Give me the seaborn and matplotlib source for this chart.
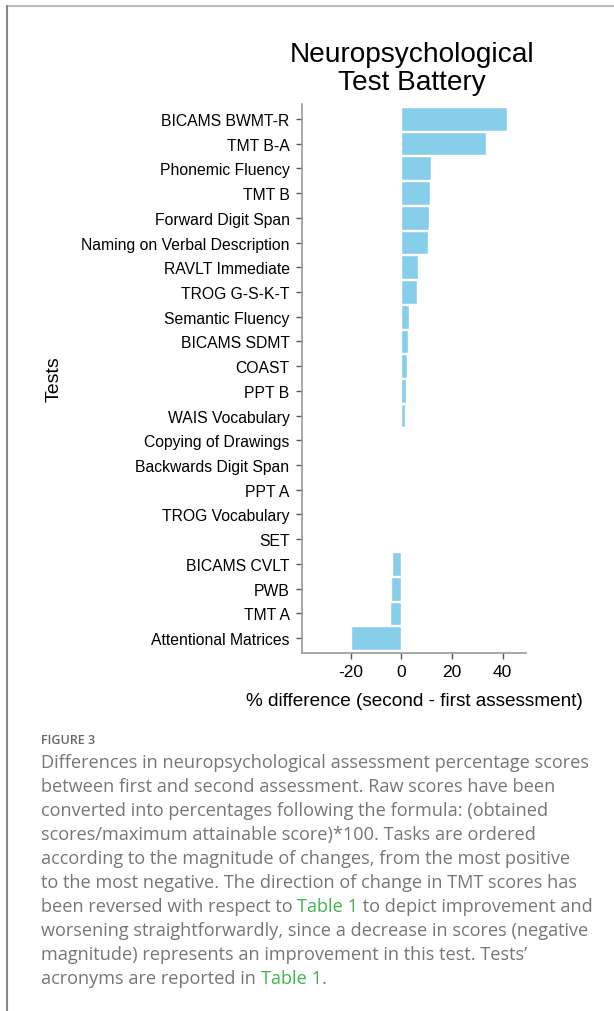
import matplotlib
matplotlib.use("Agg")
import matplotlib.pyplot as plt
import pandas as pd
import seaborn as sns
from matplotlib.lines import Line2D

tests = ["BICAMS BWMT-R", "TMT B-A", "Phonemic Fluency", "TMT B", "Forward Digit Span",
         "Naming on Verbal Description", "RAVLT Immediate", "TROG G-S-K-T", "Semantic Fluency",
         "BICAMS SDMT", "COAST", "PPT B", "WAIS Vocabulary", "Copying of Drawings",
         "Backwards Digit Span", "PPT A", "TROG Vocabulary", "SET", "BICAMS CVLT", "PWB",
         "TMT A", "Attentional Matrices"]
diff_pct = [41.7, 33.3, 11.7, 11.3, 11.0, 10.5, 6.6, 6.2, 2.9, 2.6, 2.4, 1.8, 1.3,
            0.0, 0.0, 0.0, 0.0, 0.0, -3.9, -4.2, -4.5, -20.1]
xticks = [-20, 0, 20, 40]

df = pd.DataFrame({"test": tests, "diff": diff_pct})

sns.set_style("white")
plt.rcParams['font.family'] = ['Liberation Sans', 'DejaVu Sans']
plt.rcParams['text.color'] = 'black'
plt.rcParams['axes.labelcolor'] = 'black'

fig = plt.figure(figsize=(6.14, 10.12), dpi=100)
ax = fig.add_axes([0.4919, 0.3538, 0.3648, 0.5424])

sns.barplot(data=df, x="diff", y="test", color="#87CEEB", saturation=1,
            width=0.96, edgecolor="white", linewidth=1, ax=ax)

ax.set_xlim(-39.3, 49.3)
ax.set_ylim(len(tests) - 0.4, -0.6)
ax.set_xticks(xticks)
ax.set_xticklabels([str(t) for t in xticks])
ax.tick_params(axis="both", length=4, width=1, color="#555555",
               labelcolor="black", left=True, bottom=True, pad=4)
ax.tick_params(axis="y", labelsize=11.3, pad=5)
ax.tick_params(axis="x", labelsize=12.5)
for s in ["top", "right"]:
    ax.spines[s].set_visible(False)
for s in ["left", "bottom"]:
    ax.spines[s].set_color("#999999")
    ax.spines[s].set_linewidth(1.2)

ax.set_title("Neuropsychological\nTest Battery", fontsize=20.2, pad=11, linespacing=1.1,
             color="black", x=0.49)
ax.set_xlabel("% difference (second - first assessment)", fontsize=13.7, labelpad=9)
ax.set_ylabel("Tests", fontsize=14)
ax.yaxis.set_label_coords(-1.07, 0.5)

# page frame lines
fig.add_artist(Line2D([7 / 614, 1], [1 - 7 / 1012] * 2, color="#bbbbbb", lw=1.5,
                      transform=fig.transFigure))
fig.add_artist(Line2D([7 / 614] * 2, [0, 1 - 7 / 1012], color="#888888", lw=1.5,
                      transform=fig.transFigure))

# caption
cap_font = ['Open Sans', 'DejaVu Sans']
grey = "#767676"
green = "#3db54a"
fig.text(41 / 614, 1 - 741 / 1012, "FIGURE 3", fontsize=9, color="#666666",
         family=cap_font, fontweight="semibold", va="center")

lines = [
    [("Differences in neuropsychological assessment percentage scores", grey)],
    [("between first and second assessment. Raw scores have been", grey)],
    [("converted into percentages following the formula: (obtained", grey)],
    [("scores/maximum attainable score)*100. Tasks are ordered", grey)],
    [("according to the magnitude of changes, from the most positive", grey)],
    [("to the most negative. The direction of change in TMT scores has", grey)],
    [("been reversed with respect to ", grey), ("Table 1", green),
     (" to depict improvement and", grey)],
    [("worsening straightforwardly, since a decrease in scores (negative", grey)],
    [("magnitude) represents an improvement in this test. Tests\u2019", grey)],
    [("acronyms are reported in ", grey), ("Table 1", green), (".", grey)],
]
cap_size = 13.1
y0 = 763
for i, segs in enumerate(lines):
    y = 1 - (y0 + i * 24) / 1012
    last = None
    for txt, col in segs:
        if last is None:
            last = fig.text(41 / 614, y, txt, fontsize=cap_size, color=col,
                            family=cap_font, va="center")
        else:
            last = ax.annotate(txt, xy=(1, 0), xycoords=last, fontsize=cap_size, color=col,
                               family=cap_font, va="bottom", ha="left",
                               annotation_clip=False)

fig.savefig("out.png", dpi=100)
